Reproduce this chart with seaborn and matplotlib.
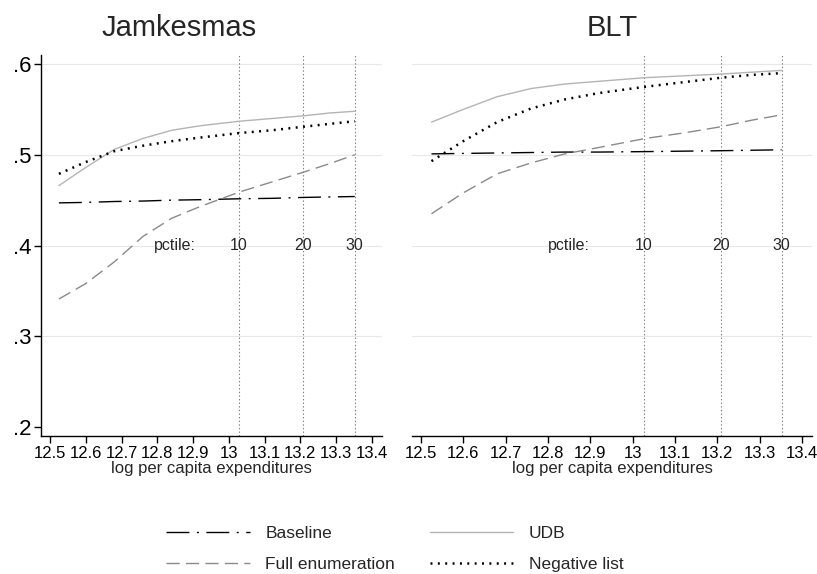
import matplotlib
matplotlib.use("Agg")
import matplotlib.pyplot as plt
import seaborn as sns
import numpy as np

# ---------------- data ----------------
panels = ["Jamkesmas", "BLT"]
x_pts = [12.525, 12.6, 12.68, 12.76, 12.84, 12.92, 13.03, 13.12, 13.21, 13.28, 13.352]

jam_baseline = [0.447, 0.4475, 0.4485, 0.449, 0.450, 0.4505, 0.4515, 0.452, 0.453, 0.4535, 0.454]
jam_fullenum = [0.341, 0.358, 0.382, 0.410, 0.430, 0.443, 0.459, 0.470, 0.481, 0.490, 0.500]
jam_udb      = [0.466, 0.486, 0.506, 0.518, 0.527, 0.532, 0.537, 0.540, 0.543, 0.546, 0.548]
jam_neglist  = [0.479, 0.492, 0.504, 0.510, 0.515, 0.519, 0.524, 0.527, 0.531, 0.534, 0.537]

blt_baseline = [0.501, 0.5015, 0.502, 0.5025, 0.503, 0.503, 0.5035, 0.504, 0.5045, 0.505, 0.5055]
blt_fullenum = [0.435, 0.458, 0.479, 0.491, 0.501, 0.508, 0.518, 0.524, 0.531, 0.538, 0.544]
blt_udb      = [0.536, 0.550, 0.564, 0.573, 0.578, 0.581, 0.585, 0.587, 0.589, 0.591, 0.593]
blt_neglist  = [0.493, 0.515, 0.536, 0.551, 0.561, 0.568, 0.575, 0.580, 0.585, 0.588, 0.590]

series_names = ["Baseline", "Full enumeration", "UDB", "Negative list"]
pctile_x = [13.027, 13.208, 13.352]
pctile_labels = ["10", "20", "30"]
pctile_text = "pctile:"
xticks = [12.5, 12.6, 12.7, 12.8, 12.9, 13.0, 13.1, 13.2, 13.3, 13.4]
xtick_labels = ["12.5", "12.6", "12.7", "12.8", "12.9", "13", "13.1", "13.2", "13.3", "13.4"]
yticks = [0.2, 0.3, 0.4, 0.5, 0.6]
ytick_labels = [".2", ".3", ".4", ".5", ".6"]
xlabel = "log per capita expenditures"

# ---------------- style ----------------
sns.set_style("white")
plt.rcParams["font.family"] = ["Liberation Sans", "DejaVu Sans"]
plt.rcParams["lines.scale_dashes"] = False

styles = {
    "Baseline": dict(color="black", linewidth=1.0, linestyle=(0, (16.5, 5.4, 1.4, 5.4))),
    "Full enumeration": dict(color="#8a8a8a", linewidth=1.0, linestyle=(0, (9.5, 4.5))),
    "UDB": dict(color="#b4b4b4", linewidth=1.0, linestyle="-"),
    "Negative list": dict(color="black", linewidth=1.8, linestyle=(0, (1.4, 3.9))),
}

W, H = 817, 574
fig = plt.figure(figsize=(W / 100, H / 100), dpi=100)

def fx(px):
    return px / W

def fy(py):
    return 1 - py / H

ax_l = fig.add_axes([fx(41), fy(436), fx(382) - fx(41), fy(55) - fy(436)])
ax_r = fig.add_axes([fx(412), fy(436), fx(812) - fx(412), fy(55) - fy(436)])

panel_data = {
    "Jamkesmas": [jam_baseline, jam_fullenum, jam_udb, jam_neglist],
    "BLT": [blt_baseline, blt_fullenum, blt_udb, blt_neglist],
}
xlims = {"Jamkesmas": (12.475, 13.428), "BLT": (12.479, 13.424)}

for ax, name in zip([ax_l, ax_r], panels):
    for yv in [0.3, 0.4, 0.5, 0.6]:
        ax.axhline(yv, color="#e8e8e8", linewidth=0.8, zorder=0)
    for xv in pctile_x:
        ax.axvline(xv, color="#808080", linewidth=0.8, linestyle=(0, (1, 1.6)), zorder=1)
    for sname, vals in zip(series_names, panel_data[name]):
        sns.lineplot(x=x_pts, y=vals, ax=ax, label=sname, legend=False, zorder=3, **styles[sname])
    if ax.get_legend() is not None:
        ax.get_legend().remove()
    ax.text(12.85, 0.4, pctile_text, ha="center", va="center", fontsize=11.5, zorder=4)
    for xv, lab in zip(pctile_x, pctile_labels):
        ax.text(xv, 0.4, lab, ha="center", va="center", fontsize=11.5, zorder=4)
    ax.set_xlim(*xlims[name])
    ax.set_ylim(0.19, 0.61)
    ax.set_xticks(xticks)
    ax.set_xticklabels(xtick_labels, fontsize=12)
    ax.set_xlabel(xlabel, fontsize=12, labelpad=0)
    ax.tick_params(axis="x", direction="out", length=5, width=1, pad=2, bottom=True, colors="black")
    for s in ["top", "right"]:
        ax.spines[s].set_visible(False)
    ax.spines["bottom"].set_color("black")
    ax.spines["bottom"].set_linewidth(1.0)
    ax.set_facecolor("white")

ax_l.set_yticks(yticks)
ax_l.set_yticklabels(ytick_labels, fontsize=16)
ax_l.tick_params(axis="y", direction="out", length=5, width=1, pad=2, left=True, colors="black")
ax_l.spines["left"].set_color("black")
ax_l.spines["left"].set_linewidth(1.0)
ax_l.set_ylabel("")

ax_r.spines["left"].set_visible(False)
ax_r.set_yticks(yticks)
ax_r.tick_params(axis="y", left=False, labelleft=False)
ax_r.set_ylabel("")

fig.text(fx(179), fy(28), panels[0], ha="center", va="center", fontsize=21)
fig.text(fx(612), fy(28), panels[1], ha="center", va="center", fontsize=21)

handles, labels = ax_l.get_legend_handles_labels()
fig.legend(handles, labels, ncol=2, loc="center", bbox_to_anchor=(fx(395), fy(549)),
           frameon=False, fontsize=12.5, handlelength=4.8, handletextpad=0.9,
           columnspacing=2.0, labelspacing=0.9)

fig.savefig("out.png", dpi=100)
